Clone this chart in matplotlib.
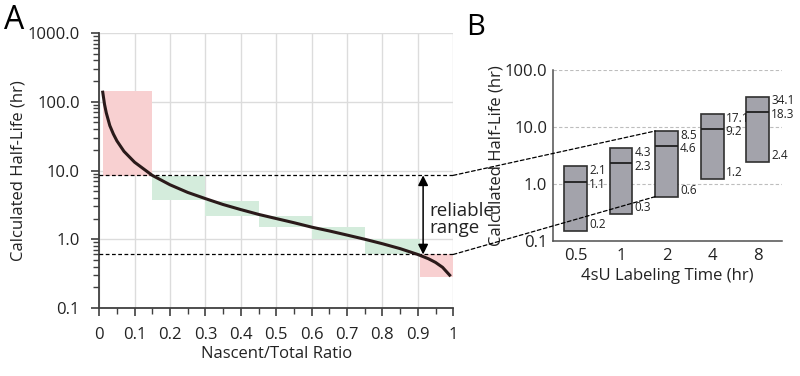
import matplotlib
matplotlib.use("Agg")
import matplotlib.pyplot as plt
from matplotlib.patches import ConnectionPatch
from matplotlib.ticker import FixedLocator, NullFormatter, LogLocator

plt.rcParams["font.family"] = ["Open Sans", "DejaVu Sans"]

# Panel A: half-life curve
ratio = [0.01, 0.015, 0.02, 0.03, 0.04, 0.05, 0.07, 0.1, 0.15, 0.2, 0.25, 0.3,
         0.35, 0.4, 0.45, 0.5, 0.55, 0.6, 0.65, 0.7, 0.75, 0.8, 0.85, 0.9,
         0.93, 0.95, 0.97, 0.99]
half_life = [138, 92, 69, 45, 34, 27, 19, 13.2, 8.5, 6.2, 4.8, 3.9,
             3.2, 2.7, 2.3, 2.0, 1.74, 1.5, 1.32, 1.15, 1.0, 0.86, 0.73, 0.6,
             0.52, 0.46, 0.39, 0.3]

# shaded bins: x edges, low / high half-life, reliable or not
bin_left = [0.01, 0.15, 0.3, 0.45, 0.6, 0.75, 0.905]
bin_right = [0.15, 0.3, 0.45, 0.6, 0.75, 0.905, 1.0]
bin_low = [8.3, 3.7, 2.2, 1.5, 1.0, 0.6, 0.28]
bin_high = [145, 8.4, 3.6, 2.2, 1.5, 1.0, 0.6]
bin_ok = [False, True, True, True, True, True, False]

range_hi = 8.5
range_lo = 0.6

# Panel B: reliable range per labeling time
times = ["0.5", "1", "2", "4", "8"]
box_top = [2.1, 4.3, 8.5, 17.1, 34.1]
box_mid = [1.1, 2.3, 4.6, 9.2, 18.3]
box_bot = [0.15, 0.3, 0.6, 1.2, 2.4]
top_labels = ["2.1", "4.3", "8.5", "17.1", "34.1"]
mid_labels = ["1.1", "2.3", "4.6", "9.2", "18.3"]
bot_labels = ["0.2", "0.3", "0.6", "1.2", "2.4"]

fig = plt.figure(figsize=(8, 3.76), dpi=100)
axA = fig.add_axes([0.124, 0.181, 0.4425, 0.731])
axB = fig.add_axes([0.691, 0.359, 0.2863, 0.455])

spine_col = "#404040"
txt_col = "#222222"

# ---- panel A ----
axA.set_yscale("log")
axA.set_xlim(0, 1)
axA.set_ylim(0.1, 1000)
for l, r, lo, hi, ok in zip(bin_left, bin_right, bin_low, bin_high, bin_ok):
    axA.fill_between([l, r], lo, hi, color="#d4ecdc" if ok else "#f8d0d1",
                     lw=0, zorder=1)
axA.plot(ratio, half_life, color="#2a1a1a", lw=2.2, zorder=4)
for yv in (range_hi, range_lo):
    axA.axhline(yv, color="black", lw=0.9, ls=(0, (3, 2)), zorder=3)

axA.set_xticks([i / 10 for i in range(11)])
axA.set_xticklabels(["0"] + [f"{i / 10:.1f}" for i in range(1, 10)] + ["1"])
axA.xaxis.set_minor_locator(FixedLocator([0.05 + i / 10 for i in range(10)]))
axA.set_yticks([0.1, 1, 10, 100, 1000])
axA.set_yticklabels(["0.1", "1.0", "10.0", "100.0", "1000.0"])
axA.yaxis.set_minor_locator(LogLocator(base=10, subs=range(2, 10)))
axA.yaxis.set_minor_formatter(NullFormatter())
axA.grid(True, which="major", color="#dcdcdc", lw=1.0, zorder=0)
axA.set_axisbelow(True)
for s in ("top", "right"):
    axA.spines[s].set_visible(False)
for s in ("left", "bottom"):
    axA.spines[s].set_color(spine_col)
    axA.spines[s].set_linewidth(1.3)
axA.tick_params(which="major", length=6, width=1.2, color=spine_col,
                labelsize=12, labelcolor=txt_col)
axA.tick_params(axis="x", which="major", pad=8)
axA.tick_params(axis="y", which="major", pad=8)
axA.tick_params(which="minor", length=4, width=1.0, color=spine_col)
axA.set_xlabel("Nascent/Total Ratio", fontsize=12, color=txt_col, labelpad=2)
axA.set_ylabel("Calculated Half-Life (hr)", fontsize=12, color=txt_col,
               labelpad=1)

axA.annotate("", xy=(0.915, range_lo), xytext=(0.915, range_hi),
             arrowprops=dict(arrowstyle="<|-|>", color="black", lw=1.1,
                             mutation_scale=15, shrinkA=0, shrinkB=0))
axA.text(0.932, 1.95, "reliable\nrange", fontsize=13.5, color=txt_col,
         va="center", ha="left", linespacing=0.9)

fig.text(0.005, 0.99, "A", fontsize=23, va="top", ha="left")
fig.text(0.583, 0.965, "B", fontsize=21, va="top", ha="left")

# ---- panel B ----
axB.set_yscale("log")
axB.set_ylim(0.1, 100)
axB.set_xlim(-0.5, 4.53)
w = 0.5
pos = list(range(len(times)))
axB.bar(pos, [t - b for t, b in zip(box_top, box_bot)], bottom=box_bot,
        width=w, color="#a3a3ab", edgecolor="#303030", lw=1.2, zorder=3)
axB.hlines(box_mid, [p - w / 2 for p in pos], [p + w / 2 for p in pos],
           color="#202020", lw=1.3, zorder=4)
for p, t, m, b, tl, ml, bl in zip(pos, box_top, box_mid, box_bot,
                                  top_labels, mid_labels, bot_labels):
    x = p + w / 2
    axB.annotate(tl, (x, t), xytext=(1.5, 1.5), textcoords="offset points",
                 fontsize=8.5, va="top", ha="left", color=txt_col)
    axB.annotate(ml, (x, m), xytext=(1.5, -2), textcoords="offset points",
                 fontsize=8.5, va="center", ha="left", color=txt_col)
    axB.annotate(bl, (x, b), xytext=(1.5, 0), textcoords="offset points",
                 fontsize=8.5, va="bottom", ha="left", color=txt_col)

axB.set_xticks(pos)
axB.set_xticklabels(times)
axB.set_yticks([0.1, 1, 10, 100])
axB.set_yticklabels(["0.1", "1.0", "10.0", "100.0"])
axB.yaxis.set_minor_formatter(NullFormatter())
axB.tick_params(which="both", length=0, labelsize=12, labelcolor=txt_col)
axB.tick_params(axis="x", pad=5)
axB.tick_params(axis="y", pad=4)
axB.grid(True, axis="y", which="major", color="#bdbdbd", lw=0.8,
         ls=(0, (3, 2)), zorder=0)
axB.set_axisbelow(True)
for s in ("top", "right"):
    axB.spines[s].set_visible(False)
for s in ("left", "bottom"):
    axB.spines[s].set_color("#505050")
    axB.spines[s].set_linewidth(1.1)
axB.set_xlabel("4sU Labeling Time (hr)", fontsize=12, color=txt_col, labelpad=3)
axB.set_ylabel("Calculated Half-Life (hr)", fontsize=12, color=txt_col,
               labelpad=0)

# connectors from panel A's reliable range to the 2 hr box
for yv in (range_hi, range_lo):
    con = ConnectionPatch(xyA=(1.0, yv), coordsA=axA.transData,
                          xyB=(2 - w / 2, yv), coordsB=axB.transData,
                          color="black", lw=0.9, ls=(0, (3, 2)), zorder=10)
    fig.add_artist(con)

fig.savefig("out.png", dpi=100)
